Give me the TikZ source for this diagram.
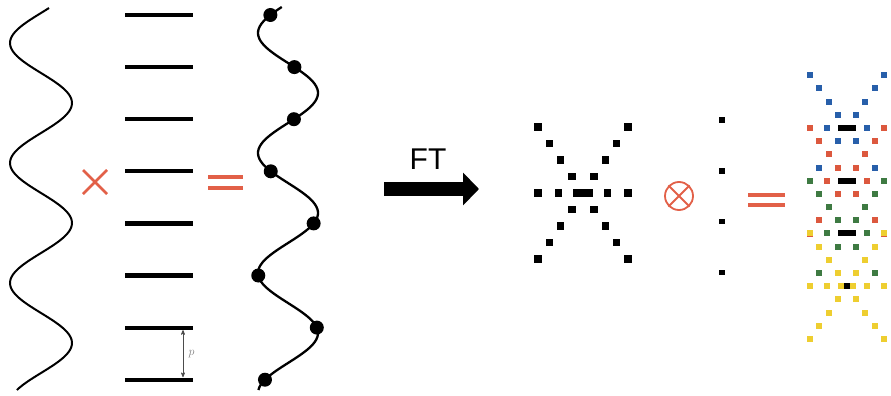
\documentclass[tikz,border=0pt]{standalone}
\usepackage{fontspec}
\setsansfont{Liberation Sans}
\usepackage{tikz}
\usetikzlibrary{arrows, arrows.meta, positioning, calc}
\definecolor{opred}{RGB}{226,96,72}
\definecolor{spblue}{RGB}{40,95,170}
\definecolor{spred}{RGB}{220,88,62}
\definecolor{spgreen}{RGB}{62,122,66}
\definecolor{spyellow}{RGB}{238,206,48}
\tikzset{
    wave/.style = {draw=black, line width=2pt},
    slit/.style = {draw=black, line width=4.2pt},
    opsign/.style = {draw=opred, line width=2.5pt},
    bigarrow/.style = {line width=14pt, -{Triangle[length=16pt,width=32pt]}},
    sample/.style = {fill=black},
}
% one X of spots: centre x, centre y, step x, step y, spot size, colour, colour of the centre pair
\newcommand{\spotx}[7]{
    \foreach \k in {1,...,4}
        \foreach \sgx in {-1,1}
            \foreach \sgy in {-1,1}
                \fill[#6] ({#1+\sgx*\k*#3-#5/2},{#2+\sgy*\k*#4-#5/2}) rectangle ++(#5,#5);
    \foreach \o in {-4,-2.2,2.2,4}
        \fill[#6] ({#1+\o*#3-#5/2},{#2-#5/2}) rectangle ++(#5,#5);
    \fill[#7] ({#1-0.6*#3-#5/2},{#2-#5/2}) rectangle ({#1+0.6*#3+#5/2},{#2+#5/2});
    \fill[black] ({#1-#5/2},{#2-#5/2}) rectangle ++(#5,#5);
}

\begin{document}
\begin{tikzpicture}[x=1pt, y=-1pt, >=stealth']
    \useasboundingbox (0,0) rectangle (891,396);
    % wave times grating
    \draw[wave] plot[domain=8:390, samples=160, variable=\t] ({41-31*cos(3*(\t-43))}, \t);
    \foreach \i in {0,...,7} {
        \coordinate (g\i) at (183, {15+52.1*\i});
        \draw[slit] (125, {15+52.1*\i}) -- (193, {15+52.1*\i});
    }
    \draw[<->, gray!60!black, line width=0.7pt] ($(g6)+(0,2.5)$) -- ($(g7)+(0,-2.5)$)
        node[midway, right=2pt, text=gray, font=\large] (plabel) {$p$};
    \draw[opsign] (83,170) -- (107,194) (83,194) -- (107,170);
    \draw[opsign, line width=3.8pt] (208,177) -- (243,177) (208,188) -- (243,188);
    \draw[wave, line width=2.3pt] plot[domain=7:390, samples=160, variable=\t] ({288-30*cos(3*(\t-33))}, \t);
    \foreach \i in {0,...,7}
        \fill[sample] ({288-30*cos(3*(15+52.1*\i-33))}, {15+52.1*\i}) circle (7pt);
    % Fourier transform
    \coordinate (ftin) at (384,189);
    \coordinate (ftout) at (479,189);
    \draw[bigarrow] (ftin) -- (ftout);
    \node[font=\sffamily\fontsize{30}{30}\selectfont] (ft) at (428,159) {FT};
    % spots
    \spotx{583}{193}{11.2}{16.5}{7.5}{black}{black}
    \node[circle, draw=opred, line width=1.8pt, minimum size=28pt, inner sep=0pt] (conv) at (679,196) {};
    \draw[opsign, line width=1.8pt] (conv.north east) -- (conv.south west) (conv.north west) -- (conv.south east);
    \foreach \i in {0,...,3}
        \fill ({722-2.7},{120+50.8*\i-2.7}) rectangle ++(5.4,5.4);
    \draw[opsign, line width=3.8pt] (748,195) -- (785,195) (748,205) -- (785,205);
    \spotx{847}{128}{9.2}{13.2}{6}{spblue}{black}
    \spotx{847}{180.7}{9.2}{13.2}{6}{spred}{black}
    \spotx{847}{233.4}{9.2}{13.2}{6}{spgreen}{black}
    \spotx{847}{286.1}{9.2}{13.2}{6}{spyellow}{spyellow}
\end{tikzpicture}
\end{document}
